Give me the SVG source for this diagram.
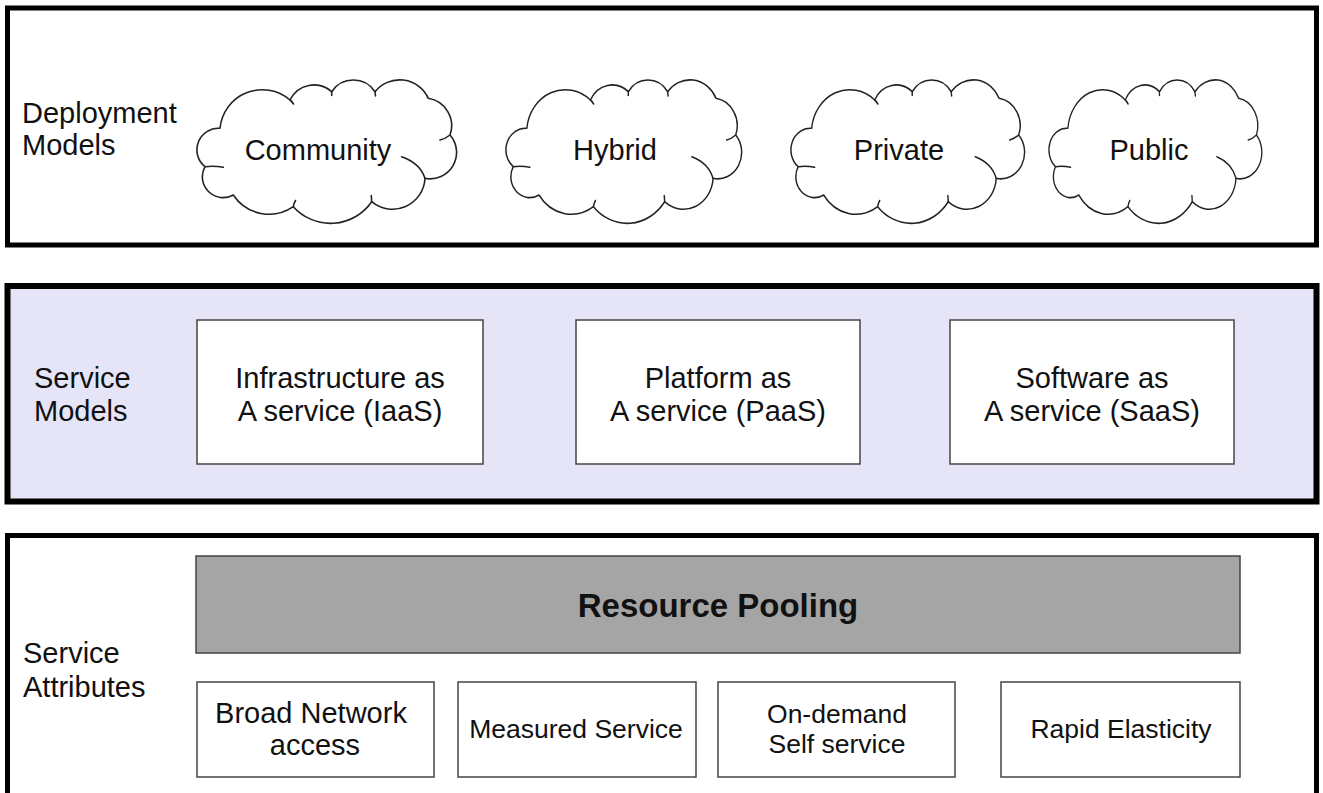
<svg xmlns="http://www.w3.org/2000/svg" width="1323" height="793" viewBox="0 0 1323 793">
<style>
.panel{stroke:#000;stroke-width:5;fill:#fff}
.box{fill:#fff;stroke:#444;stroke-width:1.5}
.cloud{fill:#fff;stroke:#222;stroke-width:1.6;stroke-linejoin:round}
.tick{fill:none;stroke:#222;stroke-width:1.6;stroke-linecap:round}
text{font-family:"Liberation Sans",Arial,sans-serif;fill:#111}
.lbl{font-size:29px}
.c{text-anchor:middle}
.m{font-size:26.5px}
.b{font-size:33px;font-weight:bold}
</style>
<defs>
<g id="cloudShape">
<path class="cloud" d="M23 48.3 A21.6 21.6 0 0 0 8 86.7 A20.8 20.8 0 0 0 36.3 115 A42.9 42.9 0 0 0 96.3 126.7 A50 50 0 0 0 174.7 121.7 A32.5 32.5 0 0 0 228 98.3 A26.4 26.4 0 0 0 253 55 A27.7 27.7 0 0 0 231.3 18.3 A31.5 31.5 0 0 0 178 11.7 A25.9 25.9 0 0 0 134.7 11.7 A26.7 26.7 0 0 0 93 20 A42.5 42.5 0 0 0 23 48.3 Z"/>
<path class="tick" d="M8 86.7 Q17 85.5 26.3 87.3 M204.7 76.7 Q223 83 228 98.3 M253 55 Q248 59 243 60 M134.7 11.7 L134.7 15.5 M178 11.7 L178.5 16 M93 20 Q95 21.5 96.5 24 M174.7 121.7 L174.3 115.5 M96.3 126.7 Q97 123 98.5 120.5"/>
</g>
</defs>

<g id="deployment-models">
<rect class="panel" x="7.5" y="8" width="1309" height="237"/>
<text class="lbl" x="22" y="123">Deployment</text>
<text class="lbl" x="22" y="155">Models</text>
</g>
<g id="community">
<use href="#cloudShape" transform="translate(197,80)"/>
<text class="lbl c" x="318" y="160">Community</text>
</g>
<g id="hybrid">
<use href="#cloudShape" transform="translate(506,80) scale(0.908,1)"/>
<text class="lbl c" x="615" y="160">Hybrid</text>
</g>
<g id="private">
<use href="#cloudShape" transform="translate(791,80) scale(0.9,1)"/>
<text class="lbl c" x="899" y="160">Private</text>
</g>
<g id="public">
<use href="#cloudShape" transform="translate(1049,80) scale(0.82,1)"/>
<text class="lbl c" x="1149" y="160">Public</text>
</g>

<g id="service-models">
<rect class="panel" x="7.5" y="286" width="1309" height="215.5" style="fill:#e5e5f7;stroke-width:6"/>
<text class="lbl" x="34" y="388">Service</text>
<text class="lbl" x="34" y="421">Models</text>
</g>
<g id="iaas">
<rect class="box" x="197" y="320" width="286" height="144"/>
<text class="lbl c" x="340" y="388">Infrastructure as</text>
<text class="lbl c" x="340" y="421">A service (IaaS)</text>
</g>
<g id="paas">
<rect class="box" x="576" y="320" width="284" height="144"/>
<text class="lbl c" x="718" y="388">Platform as</text>
<text class="lbl c" x="718" y="421">A service (PaaS)</text>
</g>
<g id="saas">
<rect class="box" x="950" y="320" width="284" height="144"/>
<text class="lbl c" x="1092" y="388">Software as</text>
<text class="lbl c" x="1092" y="421">A service (SaaS)</text>
</g>

<g id="service-attributes">
<rect class="panel" x="7.5" y="535.5" width="1309" height="300"/>
<text class="lbl" x="23" y="663">Service</text>
<text class="lbl" x="23" y="697">Attributes</text>
</g>
<g id="resource-pooling">
<rect x="196" y="556" width="1044" height="97" style="fill:#a5a5a5;stroke:#444;stroke-width:1.5"/>
<text class="b c" x="718" y="617">Resource Pooling</text>
</g>
<g id="broad-network">
<rect class="box" x="197" y="682" width="237" height="95"/>
<text class="lbl c" x="311" y="723">Broad Network</text>
<text class="lbl c" x="315" y="755">access</text>
</g>
<g id="measured-service">
<rect class="box" x="458" y="682" width="238" height="95"/>
<text class="m c" x="576" y="738">Measured Service</text>
</g>
<g id="on-demand">
<rect class="box" x="718" y="682" width="237" height="95"/>
<text class="m c" x="837" y="723">On-demand</text>
<text class="m c" x="837" y="753">Self service</text>
</g>
<g id="rapid-elasticity">
<rect class="box" x="1001" y="682" width="239" height="95"/>
<text class="m c" x="1121" y="738">Rapid Elasticity</text>
</g>
<g id="connectors"/>
</svg>
